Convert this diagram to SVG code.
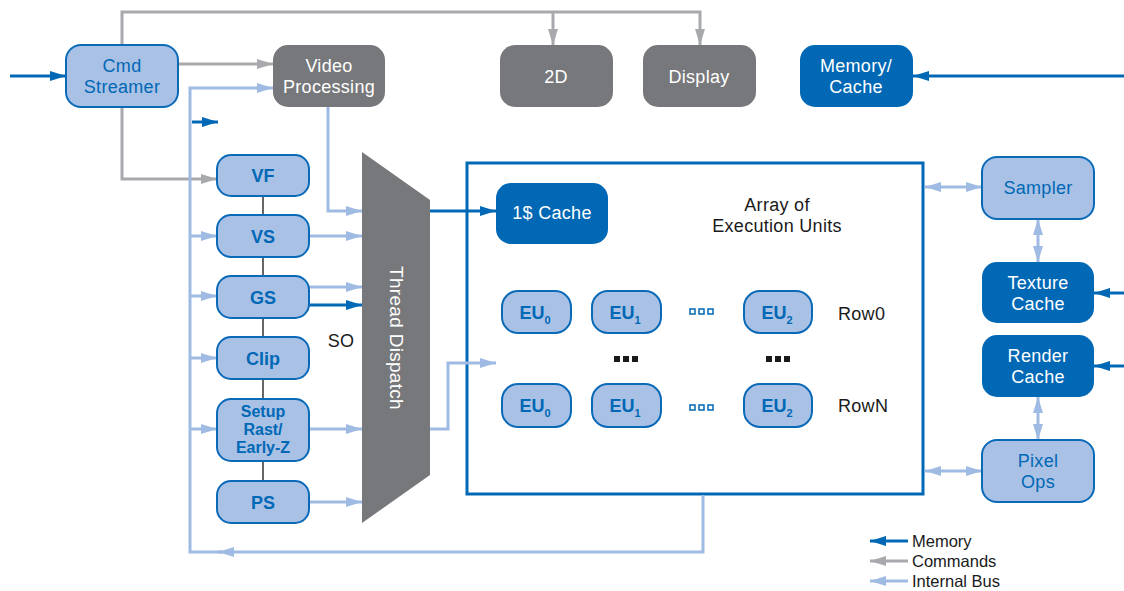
<svg xmlns="http://www.w3.org/2000/svg" width="1124" height="591" viewBox="0 0 1124 591">
<defs>
<style>
.t{font-family:"Liberation Sans",Arial,sans-serif;}
.lb{fill:#a9c1e5;stroke:#0a6ab8;stroke-width:2;}
.db{fill:#0068b5;}
.gr{fill:#77787b;}
.wt{fill:#ffffff;font-size:18px;letter-spacing:0.3px;}
.bt{fill:#0068b5;font-size:18px;letter-spacing:0.3px;}
.bb{fill:#0068b5;font-size:18px;font-weight:bold;}
.kt{fill:#1a1a1a;font-size:18px;letter-spacing:0.3px;}
.lg{fill:#1a1a1a;font-size:16.5px;}
.cd{fill:none;stroke:#0068b5;stroke-width:3;}
.cg{fill:none;stroke:#a8a9ad;stroke-width:3;}
.cl{fill:none;stroke:#9fbbe3;stroke-width:3;}
.dot{fill:none;stroke:#0068b5;stroke-width:1.5;}
</style>
<marker id="ad" markerUnits="userSpaceOnUse" markerWidth="16" markerHeight="10" refX="16" refY="5" orient="auto-start-reverse"><path d="M0,0 L16,5 L0,10 z" fill="#0068b5"/></marker>
<marker id="ag" markerUnits="userSpaceOnUse" markerWidth="16" markerHeight="10" refX="16" refY="5" orient="auto-start-reverse"><path d="M0,0 L16,5 L0,10 z" fill="#a8a9ad"/></marker>
<marker id="al" markerUnits="userSpaceOnUse" markerWidth="16" markerHeight="10" refX="16" refY="5" orient="auto-start-reverse"><path d="M0,0 L16,5 L0,10 z" fill="#9fbbe3"/></marker>
</defs>
<rect width="1124" height="591" fill="#ffffff"/>

<g id="eu-array">
<rect x="467" y="163" width="456" height="331" fill="none" stroke="#0068b5" stroke-width="3"/>
<text class="t kt" text-anchor="middle"><tspan x="777" y="211">Array of</tspan><tspan x="777" y="232">Execution Units</tspan></text>
<text class="t kt" x="838" y="320">Row0</text>
<text class="t kt" x="838" y="412">RowN</text>
<rect x="614" y="356" width="6" height="6" fill="#1a1a1a"/><rect x="623" y="356" width="6" height="6" fill="#1a1a1a"/><rect x="632" y="356" width="6" height="6" fill="#1a1a1a"/>
<rect x="766" y="356" width="6" height="6" fill="#1a1a1a"/><rect x="775" y="356" width="6" height="6" fill="#1a1a1a"/><rect x="784" y="356" width="6" height="6" fill="#1a1a1a"/>
<rect class="dot" x="690" y="309" width="5" height="5"/><rect class="dot" x="699" y="309" width="5" height="5"/><rect class="dot" x="708" y="309" width="5" height="5"/>
<rect class="dot" x="690" y="405" width="5" height="5"/><rect class="dot" x="699" y="405" width="5" height="5"/><rect class="dot" x="708" y="405" width="5" height="5"/>
</g>

<g id="connectors">
<path class="cd" d="M10 76 H66" marker-end="url(#ad)"/>
<path class="cd" d="M1124 76 H913" marker-end="url(#ad)"/>
<path class="cd" d="M1124 293 H1094" marker-end="url(#ad)"/>
<path class="cd" d="M1124 366 H1094" marker-end="url(#ad)"/>
<path class="cg" d="M122 45 V12 H700 V45" marker-end="url(#ag)"/>
<path class="cg" d="M553 12 V45" marker-end="url(#ag)"/>
<path class="cg" d="M178 64 H273" marker-end="url(#ag)"/>
<path class="cg" d="M122 107 V179 H217" marker-end="url(#ag)"/>
<path class="cl" d="M222 552 H190 V88 H273" marker-end="url(#al)"/>
<path class="cl" d="M703 495 V552 H218" marker-end="url(#al)"/>
<path class="cd" d="M192 122 H218" marker-end="url(#ad)"/>
<path class="cl" d="M190 236 H217" marker-end="url(#al)"/>
<path class="cl" d="M190 296 H217" marker-end="url(#al)"/>
<path class="cl" d="M190 358 H217" marker-end="url(#al)"/>
<path class="cl" d="M190 429 H217" marker-end="url(#al)"/>
<path d="M263 196 V481" stroke="#333333" stroke-width="1.5" fill="none"/>
<path class="cl" d="M328 107 V211 H362" marker-end="url(#al)"/>
<path class="cl" d="M309 236 H362" marker-end="url(#al)"/>
<path class="cl" d="M309 287 H362" marker-end="url(#al)"/>
<path class="cd" d="M309 305 H362" marker-end="url(#ad)"/>
<path class="cl" d="M309 429 H362" marker-end="url(#al)"/>
<path class="cl" d="M309 502 H362" marker-end="url(#al)"/>
<path class="cd" d="M430 211 H496" marker-end="url(#ad)"/>
<path class="cl" d="M430 429 H448 V363 H496" marker-end="url(#al)"/>
<path class="cl" d="M925 187 H982" marker-start="url(#al)" marker-end="url(#al)"/>
<path class="cl" d="M925 471 H982" marker-start="url(#al)" marker-end="url(#al)"/>
<path class="cl" d="M1038 219 V262" marker-start="url(#al)" marker-end="url(#al)"/>
<path class="cl" d="M1038 397 V440" marker-start="url(#al)" marker-end="url(#al)"/>
<path class="cd" d="M908 541 H870" marker-end="url(#ad)"/>
<path class="cg" d="M908 561 H870" marker-end="url(#ag)"/>
<path class="cl" d="M908 581 H870" marker-end="url(#al)"/>
</g>

<g id="cmd-streamer"><rect class="lb" x="66" y="45" width="112" height="62" rx="15"/><text class="t bt" text-anchor="middle"><tspan x="122" y="72">Cmd</tspan><tspan x="122" y="93">Streamer</tspan></text></g>
<g id="video-processing"><rect class="gr" x="273" y="45" width="112" height="62" rx="15"/><text class="t wt" text-anchor="middle"><tspan x="329" y="72">Video</tspan><tspan x="329" y="93">Processing</tspan></text></g>
<g id="n2d"><rect class="gr" x="500" y="45" width="113" height="62" rx="15"/><text class="t wt" x="556" y="83" text-anchor="middle">2D</text></g>
<g id="display"><rect class="gr" x="643" y="45" width="113" height="62" rx="15"/><text class="t wt" x="699" y="83" text-anchor="middle">Display</text></g>
<g id="memory-cache"><rect class="db" x="800" y="45" width="113" height="62" rx="15"/><text class="t wt" text-anchor="middle"><tspan x="856" y="72">Memory/</tspan><tspan x="856" y="93">Cache</tspan></text></g>

<g id="vf"><rect class="lb" x="217" y="155" width="92" height="41" rx="14"/><text class="t bb" x="263" y="182" text-anchor="middle">VF</text></g>
<g id="vs"><rect class="lb" x="217" y="215" width="92" height="42" rx="14"/><text class="t bb" x="263" y="243" text-anchor="middle">VS</text></g>
<g id="gs"><rect class="lb" x="217" y="276" width="92" height="42" rx="14"/><text class="t bb" x="263" y="304" text-anchor="middle">GS</text></g>
<g id="clip"><rect class="lb" x="217" y="337" width="92" height="42" rx="14"/><text class="t bb" x="263" y="365" text-anchor="middle">Clip</text></g>
<g id="setup"><rect class="lb" x="217" y="399" width="92" height="62" rx="14"/><text class="t bb" text-anchor="middle" style="font-size:16px"><tspan x="263" y="417">Setup</tspan><tspan x="263" y="435">Rast/</tspan><tspan x="263" y="453">Early-Z</tspan></text></g>
<g id="ps"><rect class="lb" x="217" y="481" width="92" height="42" rx="14"/><text class="t bb" x="263" y="509" text-anchor="middle">PS</text></g>
<text class="t kt" x="341" y="347" text-anchor="middle">SO</text>

<g id="thread-dispatch"><path class="gr" d="M362 152 L430 200 L430 475 L362 523 Z"/><text class="t wt" transform="translate(390 338) rotate(90)" text-anchor="middle" style="font-size:19px">Thread Dispatch</text></g>

<g id="icache"><rect class="db" x="496" y="183" width="112" height="61" rx="15"/><text class="t wt" x="552" y="219" text-anchor="middle">1$ Cache</text></g>
<g id="eu0-r0"><rect class="lb" x="502" y="291" width="69" height="42" rx="16"/><text class="t bb" x="535" y="319" text-anchor="middle">EU<tspan dy="5" style="font-size:11px">0</tspan></text></g>
<g id="eu1-r0"><rect class="lb" x="592" y="291" width="69" height="42" rx="16"/><text class="t bb" x="625" y="319" text-anchor="middle">EU<tspan dy="5" style="font-size:11px">1</tspan></text></g>
<g id="eu2-r0"><rect class="lb" x="744" y="291" width="68" height="42" rx="16"/><text class="t bb" x="777" y="319" text-anchor="middle">EU<tspan dy="5" style="font-size:11px">2</tspan></text></g>
<g id="eu0-rn"><rect class="lb" x="502" y="384" width="69" height="43" rx="16"/><text class="t bb" x="535" y="412" text-anchor="middle">EU<tspan dy="5" style="font-size:11px">0</tspan></text></g>
<g id="eu1-rn"><rect class="lb" x="592" y="384" width="69" height="43" rx="16"/><text class="t bb" x="625" y="412" text-anchor="middle">EU<tspan dy="5" style="font-size:11px">1</tspan></text></g>
<g id="eu2-rn"><rect class="lb" x="744" y="384" width="68" height="43" rx="16"/><text class="t bb" x="777" y="412" text-anchor="middle">EU<tspan dy="5" style="font-size:11px">2</tspan></text></g>

<g id="sampler"><rect class="lb" x="982" y="157" width="112" height="62" rx="15"/><text class="t bt" x="1038" y="194" text-anchor="middle">Sampler</text></g>
<g id="texture-cache"><rect class="db" x="982" y="262" width="112" height="61" rx="15"/><text class="t wt" text-anchor="middle"><tspan x="1038" y="289">Texture</tspan><tspan x="1038" y="310">Cache</tspan></text></g>
<g id="render-cache"><rect class="db" x="982" y="335" width="112" height="62" rx="15"/><text class="t wt" text-anchor="middle"><tspan x="1038" y="362">Render</tspan><tspan x="1038" y="383">Cache</tspan></text></g>
<g id="pixel-ops"><rect class="lb" x="982" y="440" width="112" height="62" rx="15"/><text class="t bt" text-anchor="middle"><tspan x="1038" y="467">Pixel</tspan><tspan x="1038" y="488">Ops</tspan></text></g>

<g id="legend">
<text class="t lg" x="912" y="547">Memory</text>
<text class="t lg" x="912" y="567">Commands</text>
<text class="t lg" x="912" y="587">Internal Bus</text>
</g>
</svg>
